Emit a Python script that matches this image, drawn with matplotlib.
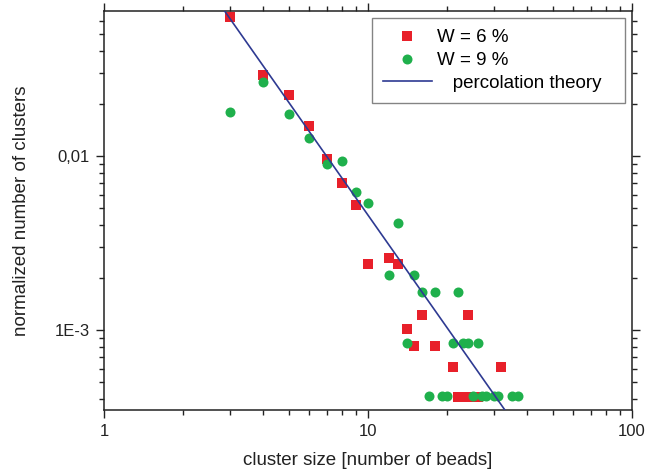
import matplotlib
matplotlib.use('Agg')
import matplotlib.pyplot as plt
from matplotlib.ticker import FixedLocator, FixedFormatter, LogLocator, NullFormatter

plt.rcParams['font.family'] = ['Liberation Sans', 'DejaVu Sans']

# W = 6 % (red squares)
x_w6 = [3, 4, 5, 6, 7, 8, 9, 10, 12, 13, 14, 15, 16, 18, 21, 22, 23, 24, 25, 26, 32]
y_w6 = [0.063, 0.0292, 0.0224, 0.0149, 0.0096, 0.0070, 0.0052, 0.0024, 0.0026,
        0.0024, 0.00101, 0.00081, 0.00122, 0.00081, 0.00061, 0.00041, 0.00041,
        0.00122, 0.00041, 0.00041, 0.00061]

# W = 9 % (green circles)
x_w9 = [3, 4, 5, 6, 7, 8, 9, 10, 12, 13, 14, 15, 16, 17, 18, 19, 20, 21, 22,
        23, 24, 25, 26, 27, 28, 30, 31, 35, 37]
y_w9 = [0.0178, 0.0267, 0.0175, 0.01264, 0.0090, 0.0094, 0.0062, 0.0054, 0.00207,
        0.0041, 0.00084, 0.00207, 0.00166, 0.00042, 0.00166, 0.00042, 0.00042,
        0.00084, 0.00166, 0.00084, 0.00084, 0.00042, 0.00084, 0.00042, 0.00042,
        0.00042, 0.00042, 0.00042, 0.00042]

# percolation theory line (end points)
x_theory = [2.5, 40]
y_theory = [0.0913, 0.000229]

fig = plt.figure(figsize=(6.47, 4.72), dpi=100)
ax = fig.add_axes([0.1607, 0.1314, 0.8161, 0.8453])

ax.plot(x_w6, y_w6, 's', color='#e8202a', markersize=6.5, markeredgewidth=0,
        label='W = 6 %', zorder=3)
ax.plot(x_w9, y_w9, 'o', color='#1fb04c', markersize=7.2, markeredgewidth=0,
        label='W = 9 %', zorder=3)
ax.plot(x_theory, y_theory, '-', color='#2e3a92', linewidth=1.2,
        label='   percolation theory', zorder=4)

ax.set_xscale('log')
ax.set_yscale('log')
ax.set_xlim(1, 100)
ax.set_ylim(3.47e-4, 0.0681)

ax.xaxis.set_major_locator(FixedLocator([1, 10, 100]))
ax.xaxis.set_major_formatter(FixedFormatter(['1', '10', '100']))
ax.xaxis.set_minor_locator(LogLocator(base=10, subs=range(2, 10)))
ax.xaxis.set_minor_formatter(NullFormatter())

ax.yaxis.set_major_locator(FixedLocator([1e-3, 1e-2]))
ax.yaxis.set_major_formatter(FixedFormatter(['1E-3', '0,01']))
ax.yaxis.set_minor_locator(LogLocator(base=10, subs=range(2, 10)))
ax.yaxis.set_minor_formatter(NullFormatter())

ax.tick_params(which='both', direction='out', top=True, right=True,
               labelsize=12, colors='#222222', width=1.0)
ax.tick_params(which='major', length=6, pad=4)
ax.tick_params(which='minor', length=3.5)
for s in ax.spines.values():
    s.set_linewidth(1.1)
    s.set_color('#222222')

ax.set_xlabel('cluster size [number of beads]', fontsize=13.5, color='#222222',
              labelpad=9.5)
ax.set_ylabel('normalized number of clusters', fontsize=13.5, color='#222222',
              labelpad=18)

leg = ax.legend(loc='upper left', bbox_to_anchor=(0.507, 0.7645, 0.4797, 0.218),
                mode='expand', fontsize=13.5, frameon=True, fancybox=False,
                edgecolor='#666666', borderpad=0.6, borderaxespad=0,
                handlelength=2.6, labelspacing=0.3, handletextpad=0.3)
leg.get_frame().set_linewidth(1.0)

fig.savefig('out.png', dpi=100)
